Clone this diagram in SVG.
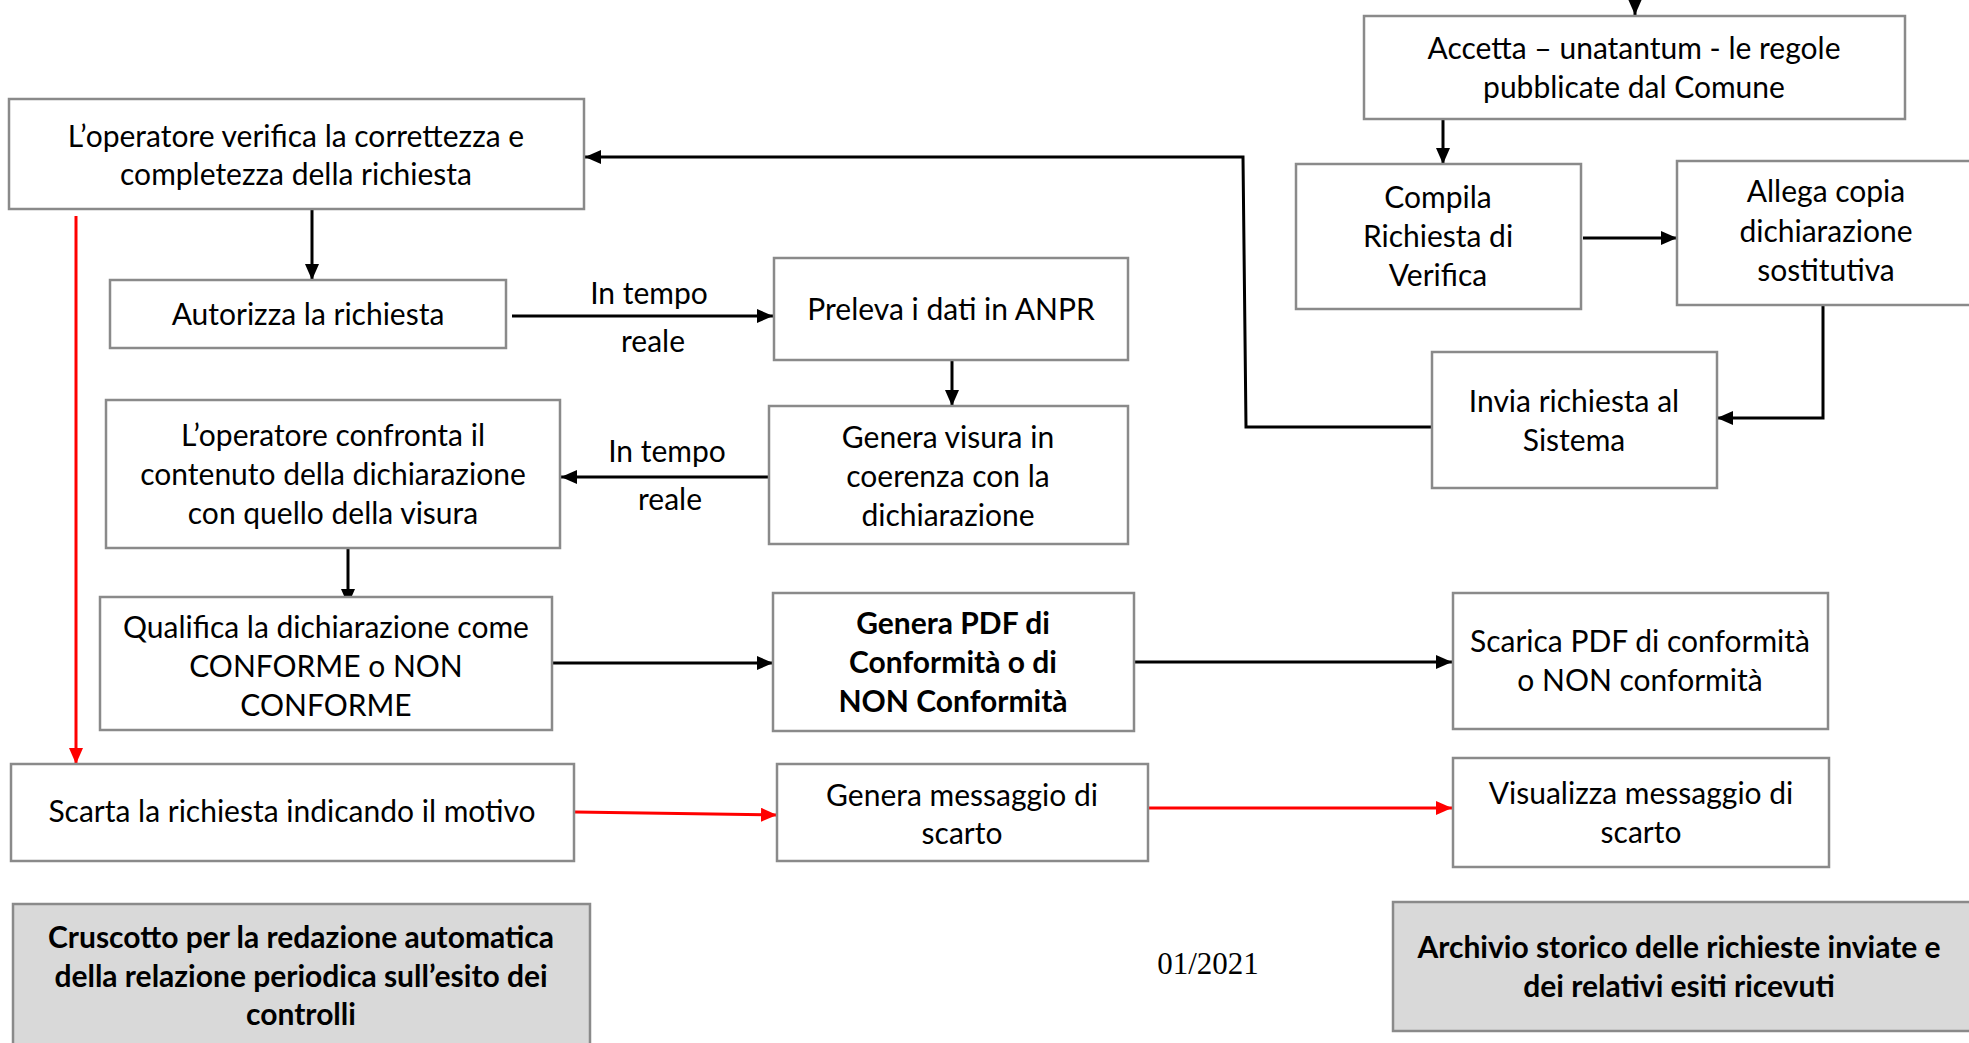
<svg xmlns="http://www.w3.org/2000/svg" width="1969" height="1043" viewBox="0 0 1969 1043">
<defs>
<style>
.box{fill:#fff;stroke:#8a8a8a;stroke-width:2.5}
.gbox{fill:#d9d9d9;stroke:#8a8a8a;stroke-width:2.5}
.t{font-family:Lato,"Open Sans","Liberation Sans",sans-serif;font-size:30px;fill:#000;text-anchor:middle}
.b{font-weight:bold}
.d{font-family:"Liberation Serif",serif;font-size:31px;fill:#000;text-anchor:middle}
.k{fill:none;stroke:#000;stroke-width:3;marker-end:url(#ak)}
.r{fill:none;stroke:#f00;stroke-width:3;marker-end:url(#ar)}
</style>
<marker id="ak" viewBox="0 0 16 14" refX="16" refY="7" markerWidth="16" markerHeight="14" markerUnits="userSpaceOnUse" orient="auto"><path d="M0,0 L16,7 L0,14 z" fill="#000"/></marker>
<marker id="ar" viewBox="0 0 16 14" refX="16" refY="7" markerWidth="16" markerHeight="14" markerUnits="userSpaceOnUse" orient="auto"><path d="M0,0 L16,7 L0,14 z" fill="#f00"/></marker>
</defs>
<rect width="1969" height="1043" fill="#fff"/>

<g id="connectors">
<path class="k" d="M1635,0 L1635,15"/>
<path class="k" d="M1443,119 L1443,164"/>
<path class="k" d="M1583,238 L1677,238"/>
<path class="k" d="M1823,305 L1823,418 L1717,418"/>
<path class="k" d="M1432,427 L1246,427 L1243,157 L585,157"/>
<path class="k" d="M312,209 L312,280"/>
<path class="k" d="M512,316 L773,316"/>
<path class="k" d="M952,360 L952,406"/>
<path class="k" d="M768,477 L561,477"/>
<path class="k" d="M348,548 L348,605"/>
<path class="k" d="M552,663 L773,663"/>
<path class="k" d="M1134,662 L1452,662"/>
<path class="r" d="M76,216 L76,764"/>
<path class="r" d="M575,812 L777,815"/>
<path class="r" d="M1148,808 L1452,808"/>
</g>

<g id="n-accetta"><rect class="box" x="1364" y="16" width="541" height="103"/>
<text class="t" x="1634" y="59">Accetta – unatantum - le regole</text>
<text class="t" x="1634" y="98">pubblicate dal Comune</text></g>

<g id="n-compila"><rect class="box" x="1296" y="164" width="285" height="145"/>
<text class="t" x="1438" y="208">Compila</text>
<text class="t" x="1438" y="247">Richiesta di</text>
<text class="t" x="1438" y="286">Verifica</text></g>

<g id="n-allega"><rect class="box" x="1677" y="161" width="300" height="144"/>
<text class="t" x="1826" y="202">Allega copia</text>
<text class="t" x="1826" y="242">dichiarazione</text>
<text class="t" x="1826" y="281">sostitutiva</text></g>

<g id="n-invia"><rect class="box" x="1432" y="352" width="285" height="136"/>
<text class="t" x="1574" y="412">Invia richiesta al</text>
<text class="t" x="1574" y="451">Sistema</text></g>

<g id="n-verifica"><rect class="box" x="9" y="99" width="575" height="110"/>
<text class="t" x="296" y="147">L’operatore verifica la correttezza e</text>
<text class="t" x="296" y="185">completezza della richiesta</text></g>

<g id="n-autorizza"><rect class="box" x="110" y="280" width="396" height="68"/>
<text class="t" x="308" y="325">Autorizza la richiesta</text></g>

<g id="lbl-1"><text class="t" x="649" y="304">In tempo</text>
<text class="t" x="653" y="352">reale</text></g>

<g id="n-preleva"><rect class="box" x="774" y="258" width="354" height="102"/>
<text class="t" x="951" y="320">Preleva i dati in ANPR</text></g>

<g id="n-visura"><rect class="box" x="769" y="406" width="359" height="138"/>
<text class="t" x="948" y="448">Genera visura in</text>
<text class="t" x="948" y="487">coerenza con la</text>
<text class="t" x="948" y="526">dichiarazione</text></g>

<g id="lbl-2"><text class="t" x="667" y="462">In tempo</text>
<text class="t" x="670" y="510">reale</text></g>

<g id="n-confronta"><rect class="box" x="106" y="400" width="454" height="148"/>
<text class="t" x="333" y="446">L’operatore confronta il</text>
<text class="t" x="333" y="485">contenuto della dichiarazione</text>
<text class="t" x="333" y="524">con quello della visura</text></g>

<g id="n-qualifica"><rect class="box" x="100" y="597" width="452" height="133"/>
<text class="t" x="326" y="638">Qualifica la dichiarazione come</text>
<text class="t" x="326" y="677">CONFORME o NON</text>
<text class="t" x="326" y="716">CONFORME</text></g>

<g id="n-pdf"><rect class="box" x="773" y="593" width="361" height="138"/>
<text class="t b" x="953" y="634">Genera PDF di</text>
<text class="t b" x="953" y="673">Conformità o di</text>
<text class="t b" x="953" y="712">NON Conformità</text></g>

<g id="n-scarica"><rect class="box" x="1453" y="593" width="375" height="136"/>
<text class="t" x="1640" y="652">Scarica PDF di conformità</text>
<text class="t" x="1640" y="691">o NON conformità</text></g>

<g id="n-scarta"><rect class="box" x="11" y="764" width="563" height="97"/>
<text class="t" x="292" y="822">Scarta la richiesta indicando il motivo</text></g>

<g id="n-genmsg"><rect class="box" x="777" y="764" width="371" height="97"/>
<text class="t" x="962" y="806">Genera messaggio di</text>
<text class="t" x="962" y="844">scarto</text></g>

<g id="n-visualizza"><rect class="box" x="1453" y="758" width="376" height="109"/>
<text class="t" x="1641" y="804">Visualizza messaggio di</text>
<text class="t" x="1641" y="843">scarto</text></g>

<g id="n-cruscotto"><rect class="gbox" x="13" y="904" width="577" height="150"/>
<text class="t b" x="301" y="948">Cruscotto per la redazione automatica</text>
<text class="t b" x="301" y="987">della relazione periodica sull’esito dei</text>
<text class="t b" x="301" y="1025">controlli</text></g>

<g id="n-archivio"><rect class="gbox" x="1393" y="902" width="590" height="129"/>
<text class="t b" x="1679" y="958">Archivio storico delle richieste inviate e</text>
<text class="t b" x="1679" y="997">dei relativi esiti ricevuti</text></g>

<g id="n-date"><text class="d" x="1208" y="974">01/2021</text></g>
</svg>
